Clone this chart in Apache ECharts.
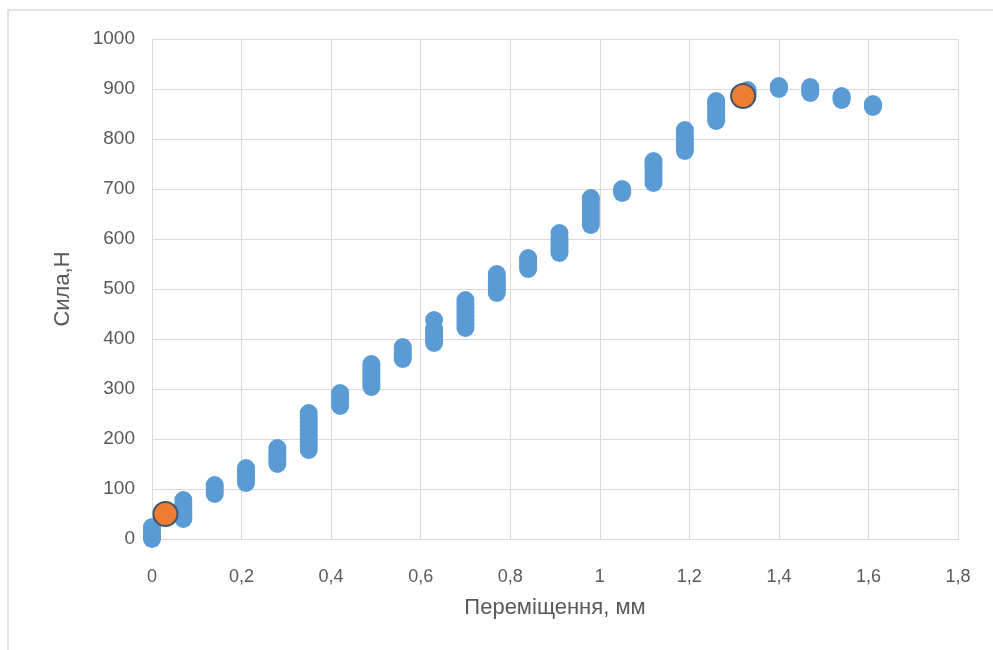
<!DOCTYPE html>
<html><head><meta charset="utf-8">
<script src="https://cdn.jsdelivr.net/npm/echarts@6/dist/echarts.min.js"></script>
<style>html,body{margin:0;padding:0;background:#fff}#c{width:993px;height:650px}</style>
</head><body><div id="c"></div>
<script>
const displacement = [0,0.07,0.14,0.21,0.28,0.35,0.42,0.49,0.56,0.63,0.70,0.77,0.84,0.91,0.98,1.05,1.12,1.19,1.26,1.33,1.40,1.47,1.54,1.61];
const forceGroups = [
  [0,4,8,12,16,20,24],
  [40,46,52,58,64,70,78],
  [90,96,102,108],
  [112,118,124,130,136,142],
  [150,156,162,168,174,182],
  [178,186,194,202,210,218,226,234,242,252],
  [266,272,278,284,292],
  [304,310,316,322,328,334,340,346,350],
  [360,366,372,378,384],
  [392,398,404,410,416,420,438],
  [422,430,438,446,454,462,470,478],
  [492,498,504,510,516,522,530],
  [540,546,552,558,562],
  [572,578,584,590,596,602,612],
  [628,636,644,652,660,668,676,682],
  [692,696,700],
  [712,720,728,736,744,750,756],
  [776,784,792,800,808,818],
  [836,842,848,854,860,866,872,876],
  [885,890,894,898],
  [900,903,906],
  [892,896,900,904],
  [878,882,886],
  [864,867,870]
];
const highlightX = [0.03,1.32];
const highlightY = [50,886];
const xTicks = ['0','0,2','0,4','0,6','0,8','1','1,2','1,4','1,6','1,8'];
const yTicks = ['0','100','200','300','400','500','600','700','800','900','1000'];

const mainData = [];
displacement.forEach((x,i)=>forceGroups[i].forEach(y=>mainData.push([x,y])));
const hiData = highlightX.map((x,i)=>[x,highlightY[i]]);

const font = "'Liberation Sans',sans-serif";
const chart = echarts.init(document.getElementById('c'));
chart.setOption({
  animation:false,
  backgroundColor:'#fff',
  graphic:[{type:'polyline',shape:{points:[[8,650],[8,10],[993,10]]},style:{stroke:'#d9d9d9',lineWidth:1.5,fill:null}}],
  grid:{left:152,right:35,top:39,bottom:111},
  xAxis:{type:'value',min:0,max:1.8,interval:0.2,
    axisLine:{show:true,lineStyle:{color:'#d9d9d9'}},axisTick:{show:false},
    splitLine:{show:true,lineStyle:{color:'#d9d9d9'}},
    axisLabel:{color:'#595959',fontSize:18,fontFamily:font,margin:29,
      formatter:v=>xTicks[Math.round(v/0.2)]},
    name:'Переміщення, мм',nameLocation:'middle',nameGap:58,
    nameTextStyle:{color:'#595959',fontSize:22,fontFamily:font}},
  yAxis:{type:'value',min:0,max:1000,interval:100,
    axisLine:{show:false},axisTick:{show:false},
    splitLine:{show:true,lineStyle:{color:'#d9d9d9'}},
    axisLabel:{color:'#595959',fontSize:19,fontFamily:font,margin:17,
      formatter:v=>yTicks[Math.round(v/100)]},
    name:'Сила,Н',nameLocation:'middle',nameGap:78,
    nameTextStyle:{color:'#595959',fontSize:22,fontFamily:font}},
  series:[
    {type:'scatter',data:mainData,symbolSize:18,itemStyle:{color:'#5B9BD5',opacity:1}},
    {type:'scatter',data:hiData,symbolSize:24,itemStyle:{color:'#ED7D31',borderColor:'#44546A',borderWidth:2,opacity:1}}
  ]
});
</script></body></html>
